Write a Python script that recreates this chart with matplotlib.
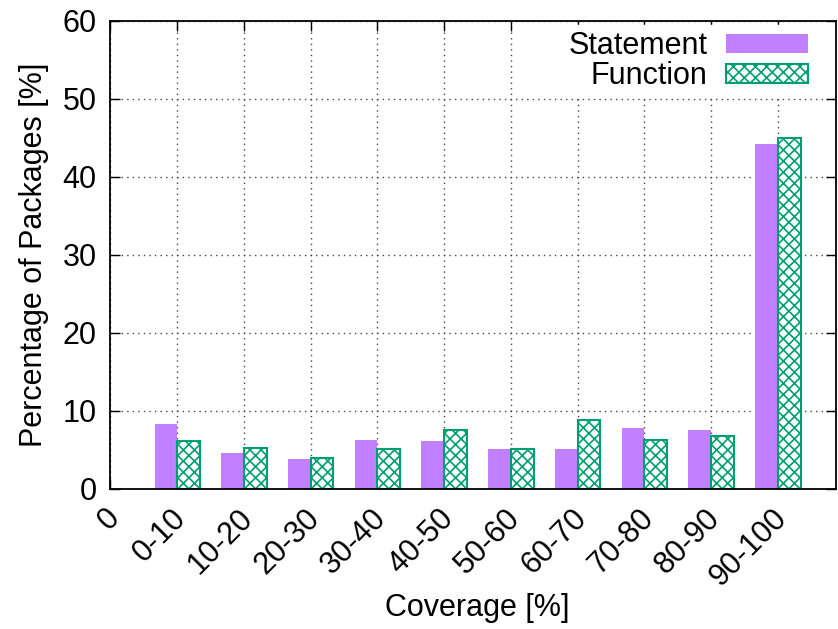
import numpy as np
import matplotlib
matplotlib.use("Agg")
import matplotlib.pyplot as plt
import matplotlib.transforms as mtransforms

plt.rcParams['font.family'] = ['Liberation Sans', 'DejaVu Sans']
plt.rcParams['hatch.linewidth'] = 1.2
plt.rcParams['hatch.color'] = '#009e73'

# coverage buckets and share of packages in each
buckets = ['0-10', '10-20', '20-30', '30-40', '40-50',
           '50-60', '60-70', '70-80', '80-90', '90-100']
statement = [8.3, 4.6, 3.8, 6.3, 6.1, 5.1, 5.1, 7.8, 7.6, 44.2]
function = [6.1, 5.3, 4.0, 5.1, 7.5, 5.1, 8.8, 6.3, 6.8, 44.9]

FS = 22

fig = plt.figure(figsize=(8.38, 6.29), dpi=100)
ax = fig.add_axes([0.1318, 0.2226, 0.8658, 0.7448])

x = np.arange(len(buckets))
w = 0.34
ax.bar(x - w / 2, statement, w, color='#c080ff', edgecolor='none',
       label='Statement', zorder=2)
ax.bar(x + w / 2, function, w, color='white', edgecolor='#009e73',
       hatch='xxx', linewidth=1.5, label='Function', zorder=2)

ax.set_xlim(-1, 9.87)
ax.set_ylim(0, 60)
ax.set_yticks(range(0, 61, 10))
ax.set_xticks(np.arange(-1, len(buckets)))
ax.set_xticklabels(['0'] + buckets, rotation=45, ha='right', va='top',
                   rotation_mode='anchor')

ax.tick_params(direction='in', length=7, width=1, top=True, right=True,
               labelsize=FS, pad=10)
ax.tick_params(axis='x', pad=10)
# nudge rotated labels a little to the left
shift = mtransforms.ScaledTranslation(-0.06, 0, fig.dpi_scale_trans)
for lbl in ax.get_xticklabels():
    lbl.set_transform(lbl.get_transform() + shift)
for s in ax.spines.values():
    s.set_linewidth(1.3)

ax.grid(True, linestyle=(0, (1, 3)), color='#444444', linewidth=1)
ax.set_axisbelow(True)

ax.set_ylabel('Percentage of Packages [%]', fontsize=FS, labelpad=10)
fig.text(0.570, 0.033, 'Coverage [%]', fontsize=FS, ha='center', va='center')

leg = ax.legend(loc='upper right', bbox_to_anchor=(0.970, 0.99),
                markerfirst=False, fontsize=FS,
                handlelength=2.7, handleheight=0.55, labelspacing=0.0,
                borderaxespad=0.0, borderpad=0.2, handletextpad=0.6,
                frameon=True, fancybox=False, framealpha=1)
leg.get_frame().set_edgecolor('white')
for t in leg.get_texts():
    t.set_ha('right')

fig.savefig('out.png', dpi=100)
